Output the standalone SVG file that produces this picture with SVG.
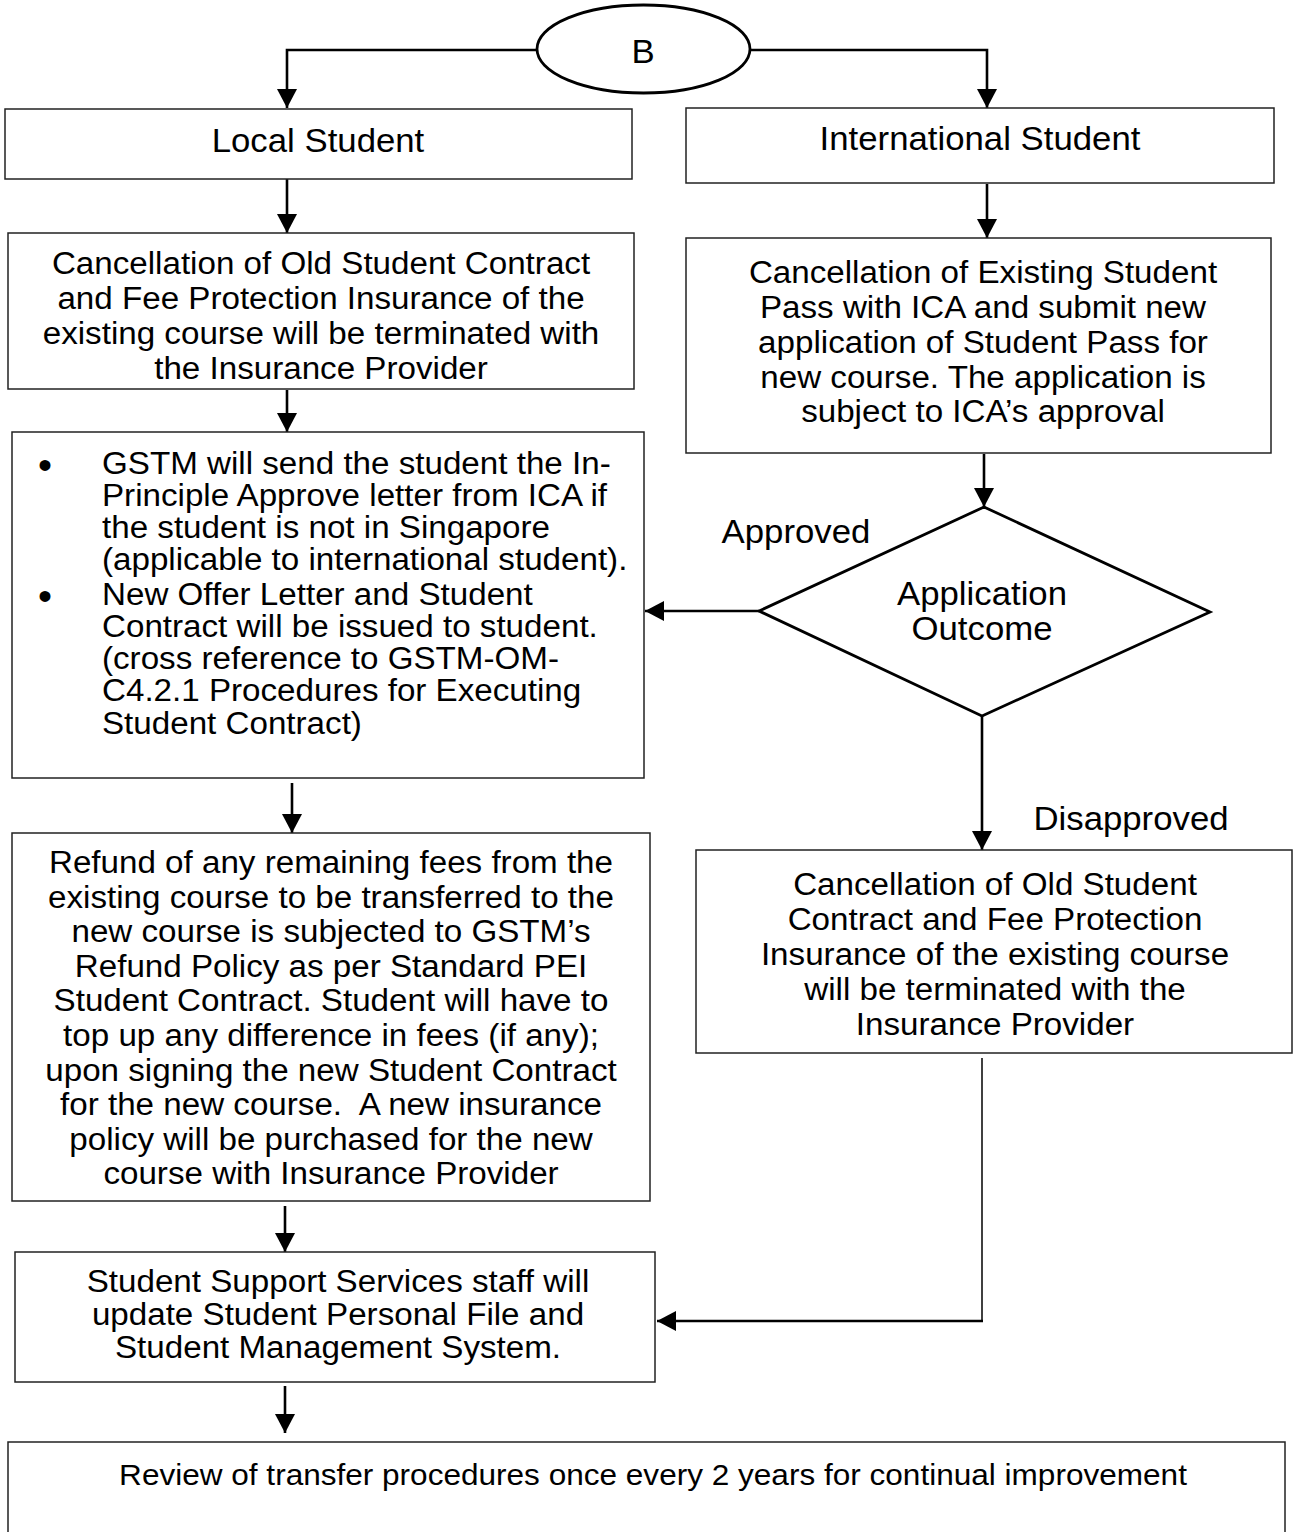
<svg xmlns="http://www.w3.org/2000/svg" width="1294" height="1532" viewBox="0 0 1294 1532">
  <defs>
    <marker id="arrow" markerUnits="userSpaceOnUse" markerWidth="22" markerHeight="22" refX="19" refY="10" orient="auto">
      <path d="M0,0 L19,10 L0,20 Z" fill="#000"/>
    </marker>
    <style>
      .box { fill: #fff; stroke: #222; stroke-width: 1.5; }
      .shape { fill: #fff; stroke: #000; stroke-width: 2.8; }
      .conn { fill: none; stroke: #000; stroke-width: 2.6; }
      .thin { fill: none; stroke: #000; stroke-width: 1.5; }
      text { font-family: "Liberation Sans", Arial, sans-serif; fill: #000; }
      .body { font-size: 31px; text-anchor: middle; }
      .title { font-size: 32.5px; text-anchor: middle; }
      .left { font-size: 31px; text-anchor: start; }
      .bullet { font-size: 40px; text-anchor: middle; }
      .small { font-size: 29.5px; text-anchor: middle; }
    </style>
  </defs>
  <rect width="1294" height="1532" fill="#fff"/>

  <!-- connectors -->
  <g id="connectors">
    <path class="conn" d="M537,50 H287 V108" marker-end="url(#arrow)"/>
    <path class="conn" d="M750,50 H987 V108" marker-end="url(#arrow)"/>
    <path class="conn" d="M287,179 V233" marker-end="url(#arrow)"/>
    <path class="conn" d="M287,390 V432" marker-end="url(#arrow)"/>
    <path class="conn" d="M987,184 V238" marker-end="url(#arrow)"/>
    <path class="conn" d="M984,454 V507" marker-end="url(#arrow)"/>
    <path class="conn" d="M759,611 H645" marker-end="url(#arrow)"/>
    <path class="conn" d="M982,716 V850" marker-end="url(#arrow)"/>
    <path class="conn" d="M292,783 V833" marker-end="url(#arrow)"/>
    <path class="conn" d="M285,1206 V1252" marker-end="url(#arrow)"/>
    <path class="thin" d="M982,1058 V1322"/>
    <path class="conn" d="M983,1321 H657" marker-end="url(#arrow)"/>
    <path class="conn" d="M285,1386 V1433" marker-end="url(#arrow)"/>
  </g>

  <!-- start connector -->
  <g id="node-b">
    <ellipse class="shape" cx="643.5" cy="49" rx="106.5" ry="44"/>
    <g transform="translate(643 0) scale(1.07 1)"><text class="title" x="0" y="63">B</text></g>
  </g>

  <g id="node-local">
    <rect class="box" x="5" y="109" width="627" height="70"/>
    <g transform="translate(318 0) scale(1.07 1)"><text class="title" x="0" y="152">Local Student</text></g>
  </g>

  <g id="node-international">
    <rect class="box" x="686" y="108" width="588" height="75"/>
    <g transform="translate(980 0) scale(1.07 1)"><text class="title" x="0" y="150">International Student</text></g>
  </g>

  <g id="node-local-cancel">
    <rect class="box" x="8" y="233" width="626" height="156"/>
    <g transform="translate(321 0) scale(1.07 1)">
      <text class="body" x="0" y="274">Cancellation of Old Student Contract</text>
      <text class="body" x="0" y="309">and Fee Protection Insurance of the</text>
      <text class="body" x="0" y="344">existing course will be terminated with</text>
      <text class="body" x="0" y="379">the Insurance Provider</text>
    </g>
  </g>

  <g id="node-pass-cancel">
    <rect class="box" x="686" y="238" width="585" height="215"/>
    <g transform="translate(983 0) scale(1.07 1)">
      <text class="body" x="0" y="283">Cancellation of Existing Student</text>
      <text class="body" x="0" y="318">Pass with ICA and submit new</text>
      <text class="body" x="0" y="353">application of Student Pass for</text>
      <text class="body" x="0" y="388">new course. The application is</text>
      <text class="body" x="0" y="422">subject to ICA’s approval</text>
    </g>
  </g>

  <g id="node-offer">
    <rect class="box" x="12" y="432" width="632" height="346"/>
    <text class="bullet" x="45" y="479">•</text>
    <text class="bullet" x="45" y="610">•</text>
    <g transform="translate(102 0) scale(1.07 1)">
      <text class="left" x="0" y="474">GSTM will send the student the In-</text>
      <text class="left" x="0" y="506">Principle Approve letter from ICA if</text>
      <text class="left" x="0" y="538">the student is not in Singapore</text>
      <text class="left" x="0" y="570">(applicable to international student).</text>
      <text class="left" x="0" y="605">New Offer Letter and Student</text>
      <text class="left" x="0" y="637">Contract will be issued to student.</text>
      <text class="left" x="0" y="669">(cross reference to GSTM-OM-</text>
      <text class="left" x="0" y="701">C4.2.1 Procedures for Executing</text>
      <text class="left" x="0" y="734">Student Contract)</text>
    </g>
  </g>

  <g id="node-outcome">
    <polygon class="shape" points="984,507 1210,612 982,716 759,611"/>
    <g transform="translate(982 0) scale(1.07 1)">
      <text class="title" x="0" y="605">Application</text>
      <text class="title" x="0" y="640">Outcome</text>
    </g>
  </g>

  <g id="label-approved" transform="translate(796 0) scale(1.07 1)">
    <text class="title" x="0" y="543">Approved</text>
  </g>
  <g id="label-disapproved" transform="translate(1131 0) scale(1.07 1)">
    <text class="title" x="0" y="830">Disapproved</text>
  </g>

  <g id="node-refund">
    <rect class="box" x="12" y="833" width="638" height="368"/>
    <g transform="translate(331 0) scale(1.07 1)">
      <text class="body" x="0" y="873">Refund of any remaining fees from the</text>
      <text class="body" x="0" y="908">existing course to be transferred to the</text>
      <text class="body" x="0" y="942">new course is subjected to GSTM’s</text>
      <text class="body" x="0" y="977">Refund Policy as per Standard PEI</text>
      <text class="body" x="0" y="1011">Student Contract. Student will have to</text>
      <text class="body" x="0" y="1046">top up any difference in fees (if any);</text>
      <text class="body" x="0" y="1081">upon signing the new Student Contract</text>
      <text class="body" x="0" y="1115" xml:space="preserve">for the new course.  A new insurance</text>
      <text class="body" x="0" y="1150">policy will be purchased for the new</text>
      <text class="body" x="0" y="1184">course with Insurance Provider</text>
    </g>
  </g>

  <g id="node-intl-cancel">
    <rect class="box" x="696" y="850" width="596" height="203"/>
    <g transform="translate(995 0) scale(1.07 1)">
      <text class="body" x="0" y="895">Cancellation of Old Student</text>
      <text class="body" x="0" y="930">Contract and Fee Protection</text>
      <text class="body" x="0" y="965">Insurance of the existing course</text>
      <text class="body" x="0" y="1000">will be terminated with the</text>
      <text class="body" x="0" y="1035">Insurance Provider</text>
    </g>
  </g>

  <g id="node-update">
    <rect class="box" x="15" y="1252" width="640" height="130"/>
    <g transform="translate(338 0) scale(1.07 1)">
      <text class="body" x="0" y="1292">Student Support Services staff will</text>
      <text class="body" x="0" y="1325">update Student Personal File and</text>
      <text class="body" x="0" y="1358">Student Management System.</text>
    </g>
  </g>

  <g id="node-review">
    <rect class="box" x="8" y="1442" width="1277" height="110"/>
    <g transform="translate(653 0) scale(1.07 1)">
      <text class="small" x="0" y="1485">Review of transfer procedures once every 2 years for continual improvement</text>
    </g>
  </g>
</svg>
